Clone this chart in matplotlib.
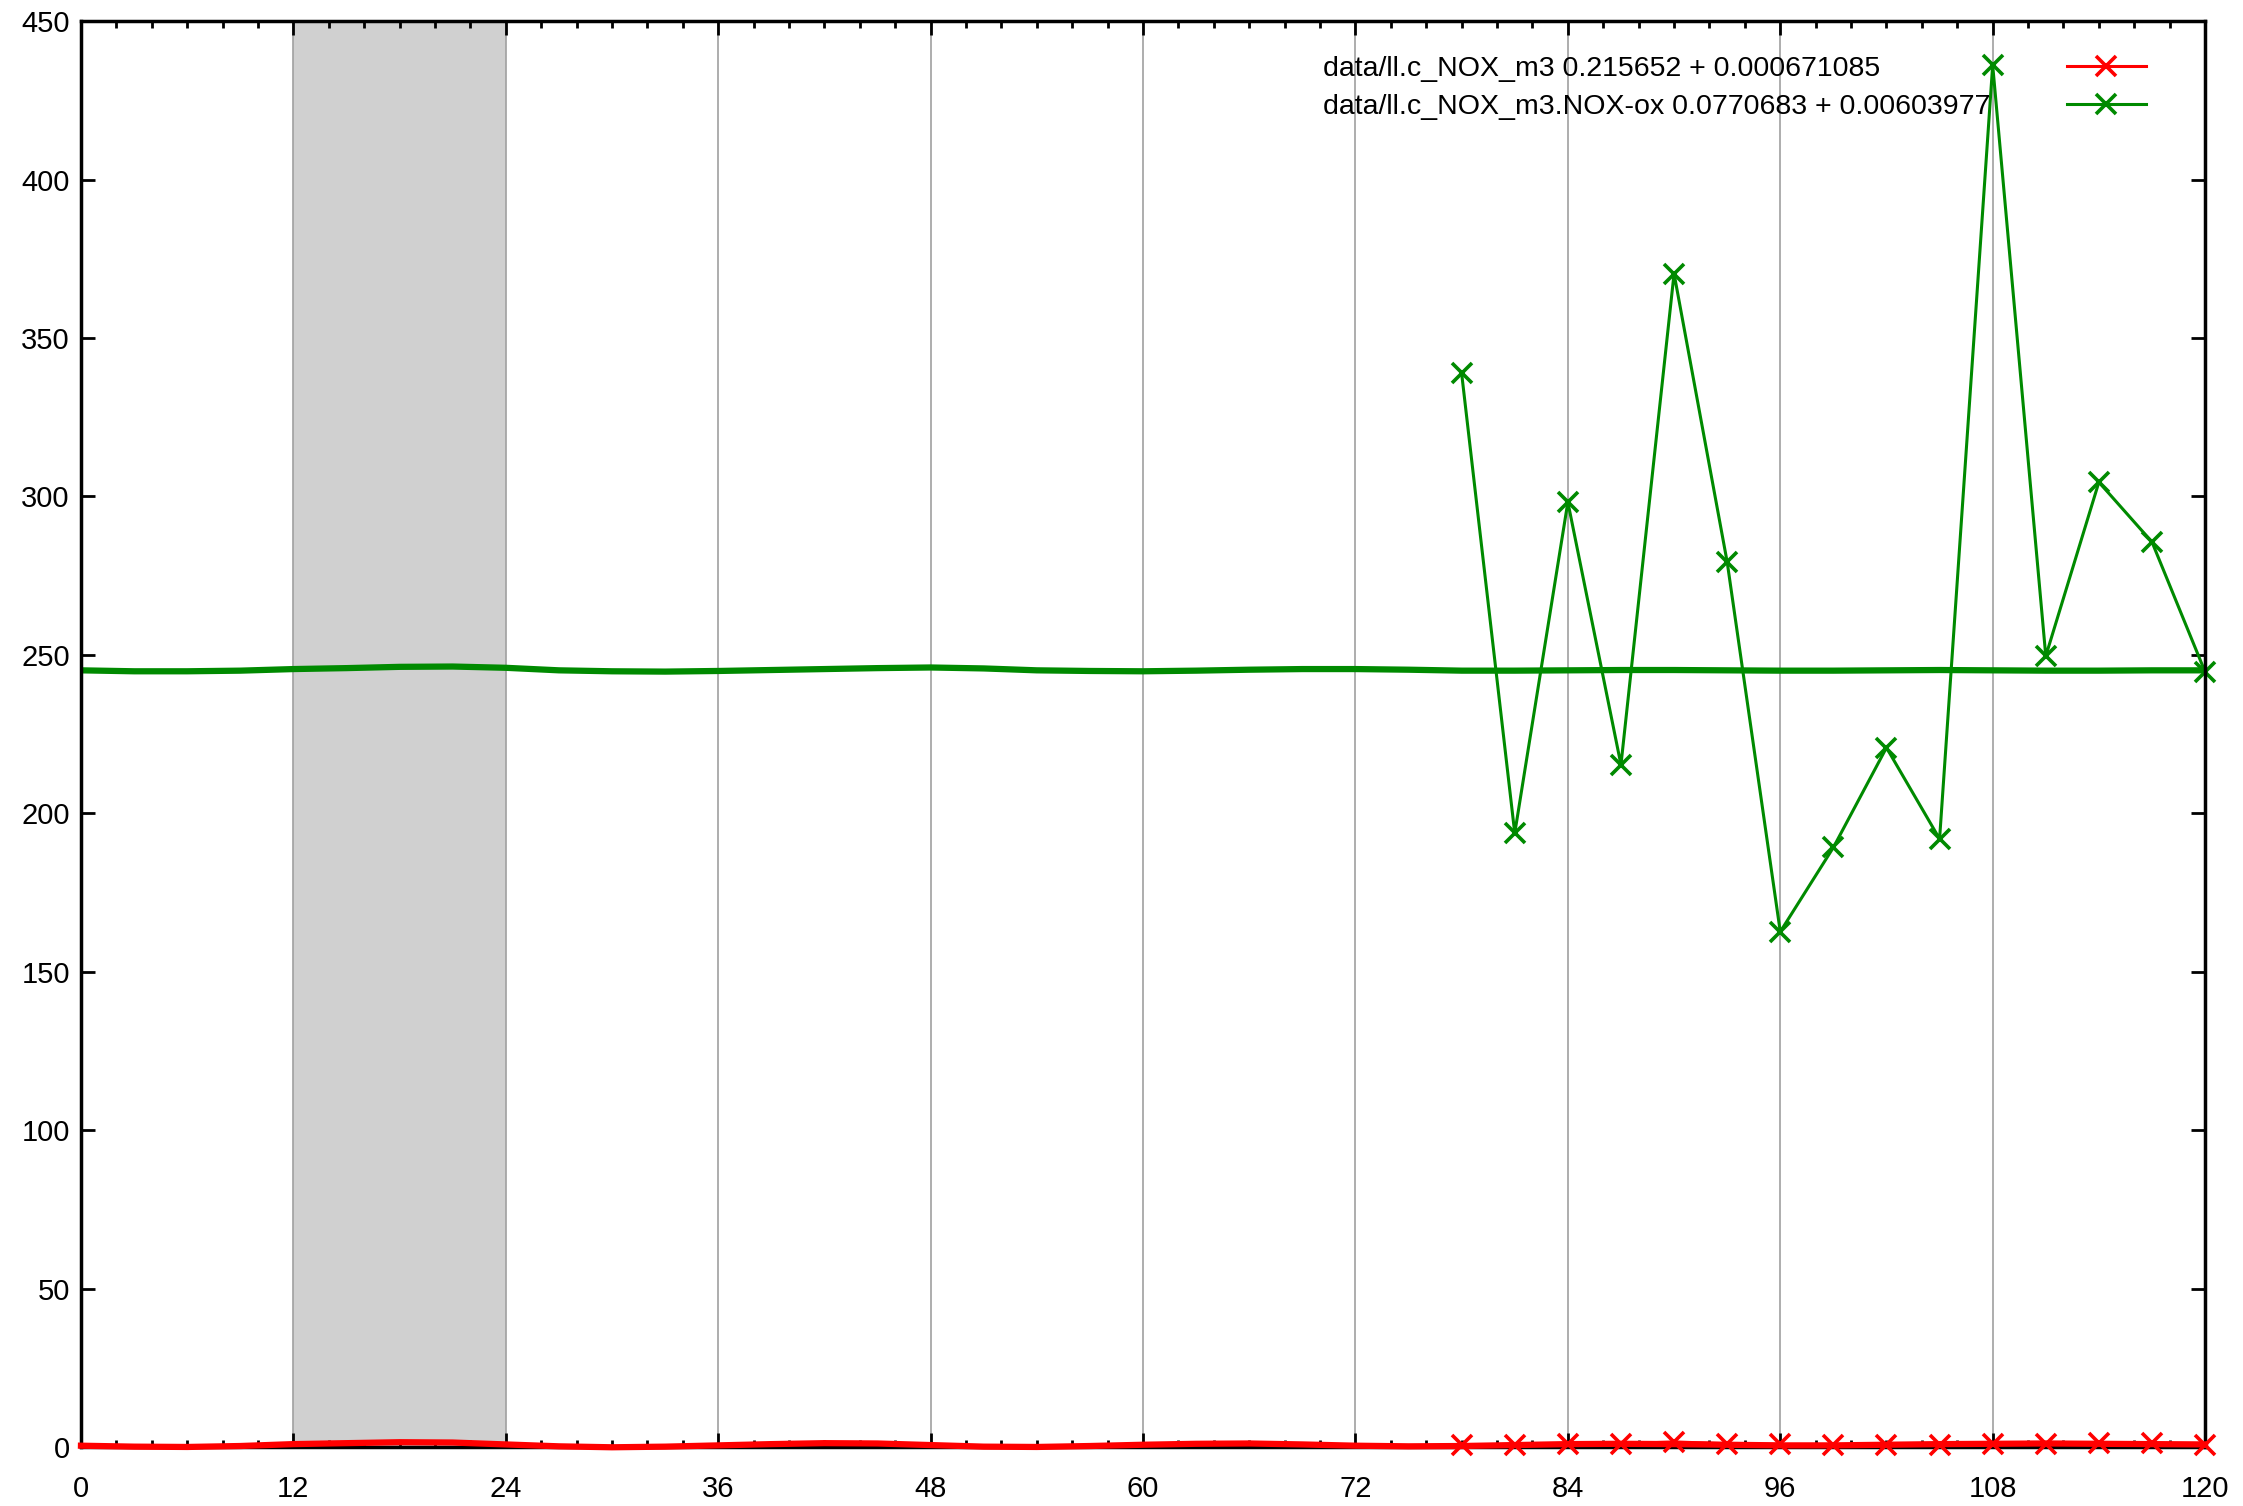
import numpy as np
import matplotlib.pyplot as plt

plt.rcParams['font.family'] = ['Liberation Sans', 'DejaVu Sans']

# smooth fit curves (read every 3 h)
fit_x = list(range(0, 121, 3))
green_fit = [245.1, 244.8, 244.8, 245.0, 245.5, 245.8, 246.2, 246.3, 245.9, 245.1,
             244.8, 244.7, 244.9, 245.2, 245.5, 245.8, 246.0, 245.7, 245.1, 244.9,
             244.8, 245.0, 245.3, 245.5, 245.5, 245.3, 245.0, 245.0, 245.1, 245.2,
             245.2, 245.1, 245.0, 245.0, 245.1, 245.2, 245.1, 245.0, 245.0, 245.1, 245.1]
red_fit = [0.4, 0.1, 0.0, 0.3, 0.9, 1.2, 1.5, 1.4, 0.8, 0.2,
           -0.1, 0.1, 0.5, 0.9, 1.2, 1.1, 0.6, 0.1, 0.0, 0.3,
           0.7, 1.0, 1.1, 0.8, 0.4, 0.2, 0.3, 0.6, 0.9, 1.0,
           0.9, 0.7, 0.5, 0.5, 0.7, 0.9, 1.0, 1.1, 1.0, 0.9, 0.8]

# measured points
pt_x = [78, 81, 84, 87, 90, 93, 96, 99, 102, 105, 108, 111, 114, 117, 120]
nox_ox = [338.8, 193.7, 298.2, 215.3, 370.3, 279.3, 162.6, 189.2, 220.7, 191.9,
          436.1, 249.6, 304.5, 285.6, 244.6]
nox = [0.5, 0.6, 0.9, 1.0, 1.6, 1.0, 0.8, 0.5, 0.6, 0.6, 0.9, 1.0, 1.4, 1.2, 0.7]

labels = ["data/ll.c_NOX_m3 0.215652 + 0.000671085",
          "data/ll.c_NOX_m3.NOX-ox 0.0770683 + 0.00603977"]

RED = '#ff0000'
GREEN = '#008a00'
FS = 21

fig = plt.figure(figsize=(22.43, 15.06), dpi=100)
ax = fig.add_axes([0.0361, 0.0392, 0.9470, 0.9468])

ax.axvspan(12, 24, color='#d0d0d0', zorder=0, lw=0)
for gx in range(12, 120, 12):
    ax.axvline(gx, color='#a0a0a0', lw=1.2, zorder=1)

ax.plot(fit_x, green_fit, color=GREEN, lw=4.5, zorder=3)
ax.plot(fit_x, red_fit, color=RED, lw=4.5, zorder=5, clip_on=False)

l1, = ax.plot(pt_x, nox, color=RED, lw=2.2, marker='x', ms=15, mew=2.6,
              zorder=6, clip_on=False)
l2, = ax.plot(pt_x, nox_ox, color=GREEN, lw=2.2, marker='x', ms=15, mew=2.6,
              zorder=4, clip_on=False)

ax.set_xlim(0, 120)
ax.set_ylim(0, 450)
ax.set_xticks(range(0, 121, 12))
ax.set_xticks(range(0, 121, 2), minor=True)
ax.set_yticks(range(0, 451, 50))
ax.tick_params(which='both', direction='in', top=True, right=True, labelsize=FS, width=2)
ax.tick_params(which='major', length=10)
ax.tick_params(which='minor', length=5)
ax.tick_params(axis='x', which='major', pad=20)
ax.tick_params(axis='y', which='major', pad=8)
for s in ax.spines.values():
    s.set_linewidth(2.5)
    s.set_zorder(4.5)

# gnuplot-style key: left-aligned text block, samples on the right
common = dict(frameon=False, fontsize=20.5, borderaxespad=0, borderpad=0,
              labelspacing=0.42)
blank = plt.Line2D([], [], alpha=0)
leg_txt = ax.legend([blank, blank], labels, loc='upper left',
                    bbox_to_anchor=(0.5848, 0.9755), handlelength=0,
                    handletextpad=0, **common)
ax.add_artist(leg_txt)
ax.legend([l1, l2], ['', ''], loc='upper right', bbox_to_anchor=(0.972, 0.9755),
          markerfirst=False, handlelength=2.75, handletextpad=0, **common)

fig.savefig('out.png', dpi=100)
